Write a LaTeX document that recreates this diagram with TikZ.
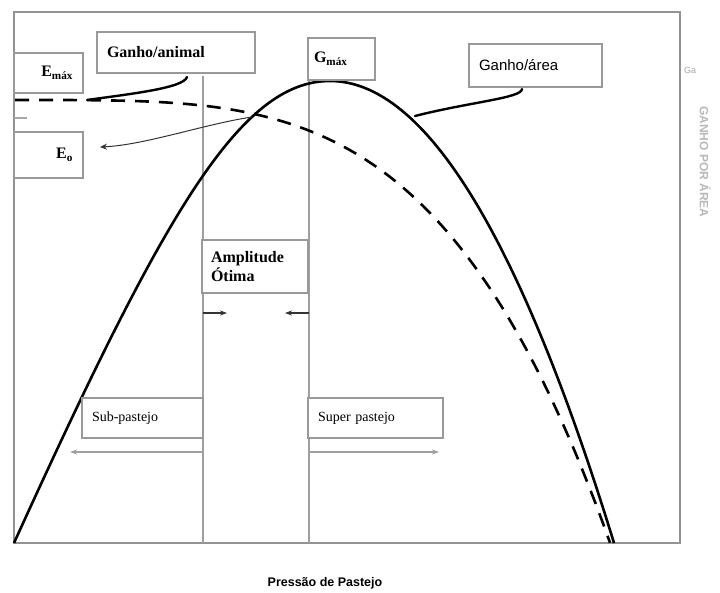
\documentclass[tikz,border=0pt]{standalone}
\usepackage{fontspec}
\setmainfont{Liberation Serif}
\setsansfont{Liberation Sans}
\usetikzlibrary{arrows.meta}

\tikzset{
  frame/.style={draw=gray!85, line width=1.8pt},
  guide/.style={draw=gray!75, line width=1.1pt},
  box/.style={draw=gray!80, line width=1.8pt, fill=white, inner ysep=0pt,
              inner xsep=10pt, align=left, font=\fontsize{16}{19}\selectfont\bfseries},
  thinbox/.style={box, font=\fontsize{14}{17}\selectfont},
  peso/.style={draw=black, line width=2.6pt},
  campo/.style={draw=black, line width=2.6pt, dash pattern=on 14pt off 10pt},
  callout/.style={draw=black, line width=2.4pt, line cap=round},
  pointer/.style={draw=black!80, line width=1pt, -{Stealth[length=7pt,width=6pt]}},
  spanarrow/.style={draw=gray!75, line width=1.1pt, -{Stealth[length=7pt,width=5pt]}}
}

\begin{document}
\begin{tikzpicture}[x=1pt,y=-1pt]
  \useasboundingbox (0,0) rectangle (720,593);
  \fill[white] (0,0) rectangle (720,593);

  % plotting frame
  \draw[frame] (14,12) rectangle (680,543);
  \draw[gray!70, line width=1.4pt] (14,118) -- (27,118);

  % guide lines bounding the optimal range
  \coordinate (vlt) at (203,76);
  \coordinate (vlb) at (203,543);
  \coordinate (vrt) at (309,80);
  \coordinate (vrb) at (309,543);
  \draw[guide] (vlt) -- (vlb);
  \draw[guide] (vrt) -- (vrb);

  % gain per area (solid) and gain per animal (dashed)
  \coordinate (c0) at (14,543);
  \coordinate (ctop) at (330,81);
  \coordinate (c1) at (614,543);
  \draw[peso] (c0) .. controls (164,213) and (240,81) .. (ctop)
              .. controls (424.7,81) and (519.3,235) .. (c1);
  \draw[campo] plot[domain=15:610, samples=90] (\x, {100+443*((\x-14)/596)^3.8});

  % labels
  \node[box, minimum width=158pt, minimum height=41pt, text width=138pt] (ganimal) at (176,52.5) {Ganho/animal};
  \node[box, minimum width=69pt, minimum height=40pt, text width=49pt, align=right, inner xsep=10pt] (emax) at (48.5,73) {E\textsubscript{máx}};
  \node[box, minimum width=69pt, minimum height=46pt, text width=49pt, align=right, inner xsep=10pt] (eo) at (48.5,155) {E\textsubscript{o}};
  \node[box, minimum width=67pt, minimum height=42pt, text width=55pt, inner xsep=6pt] (gmax) at (341.5,59) {G\textsubscript{máx}};
  \node[box, font=\sffamily\fontsize{15}{18}\selectfont, minimum width=133pt, minimum height=43pt, text width=113pt] (garea) at (535.5,65.5) {Ganho/área};
  \node[box, minimum width=106pt, minimum height=53pt, text width=88pt, inner xsep=9pt] (ampl) at (255,266.5) {Amplitude\\Ótima};
  \node[thinbox, minimum width=121pt, minimum height=40pt, text width=101pt] (sub) at (142.5,418) {Sub-pastejo};
  \node[thinbox, minimum width=135pt, minimum height=40pt, text width=115pt] (super) at (375.5,418) {Super pastejo};

  % callouts
  \coordinate (ga1) at (187,77);
  \coordinate (ga2) at (87,100);
  \draw[callout] (ga1) .. controls (184,88) and (130,94) .. (ga2);
  \coordinate (gr1) at (522,89);
  \coordinate (gr2) at (415,116);
  \draw[callout] (gr1) .. controls (522,98) and (470,102) .. (gr2);
  \coordinate (eo1) at (252,117);
  \coordinate (eo2) at (100,147);
  \draw[pointer] (eo1) .. controls (205,124) and (145,145) .. (eo2);

  % optimal range markers
  \coordinate (al) at (203,313);
  \coordinate (ar) at (309,313);
  \coordinate (alx) at (227,313);
  \coordinate (arx) at (285,313);
  \draw[spanarrow, draw=black!80] (al) -- (alx);
  \draw[spanarrow, draw=black!80] (ar) -- (arx);

  % grazing ranges
  \coordinate (sl) at (203,452);
  \coordinate (slx) at (70,452);
  \coordinate (sr) at (309,452);
  \coordinate (srx) at (439,452);
  \draw[spanarrow] (sl) -- (slx);
  \draw[spanarrow] (sr) -- (srx);

  % axis texts
  \node[font=\sffamily\bfseries\fontsize{12.5}{14}\selectfont] (xlab) at (325,583) {Pressão de Pastejo};
  \node[font=\sffamily\fontsize{9}{10}\selectfont, text=gray!70] (gm) at (690,70) {Ga};
  \node[font=\sffamily\bfseries\fontsize{12}{14}\selectfont, text=gray!55, rotate=-90] (ylab) at (705,162) {GANHO POR ÁREA};
\end{tikzpicture}
\end{document}
